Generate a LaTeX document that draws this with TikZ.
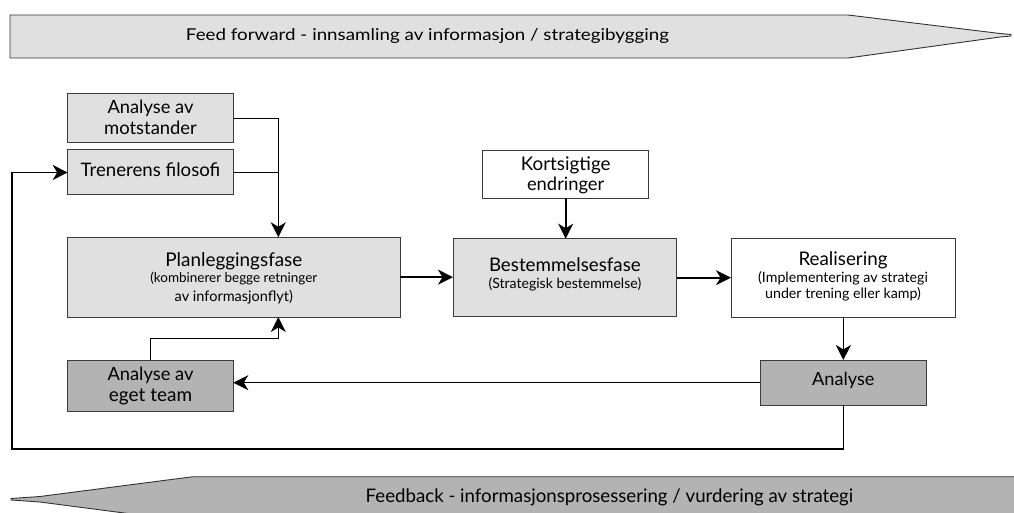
\documentclass[tikz,border=0pt]{standalone}
\usepackage{graphicx}
\usepackage{fontspec}
\setmainfont{Lato}
\newfontfamily\bandfont{Lato}[FakeStretch=1.15]
\usetikzlibrary{arrows.meta}
\definecolor{lightfill}{HTML}{E0E0E0}
\definecolor{darkfill}{HTML}{B3B3B3}
\definecolor{edge}{HTML}{3C3C3C}
% set a line of text to a given width
\newcommand\fit[2]{\resizebox{#1}{!}{#2}}
% invisible struts fixing the vertical extent of a text block
\newcommand\topstrut{\rule{0pt}{20pt}}
\newcommand\botstrut[1]{\rule[-#1pt]{0pt}{#1pt}}
\begin{document}
\begin{tikzpicture}[x=1pt,y=-1pt,
  box/.style={draw=edge, line width=1pt, rectangle, inner sep=0pt, outer sep=0pt,
    anchor=north west, align=center},
  light/.style={box, fill=lightfill},
  dark/.style={box, fill=darkfill},
  plain/.style={box, fill=white},
  band/.style={draw=black!80, line width=0.9pt},
  conn/.style={line width=1.6pt, -{Stealth[length=15pt,width=15pt,inset=4.5pt]}},
  link/.style={line width=1.6pt}]
\useasboundingbox (0,0) rectangle (1014,513);

% forward band
\filldraw[band, fill=lightfill] (10,15) -- (848,15) -- (1000,33.5) -- (1011,34.5) -- (1011,36)
  -- (1000,37) -- (848,58) -- (10,58) -- cycle;
\node[anchor=base, inner sep=0pt] (ff) at (427.5,40.7)
  {\fit{483pt}{\bandfont Feed forward - innsamling av informasjon / strategibygging}};

% feedback band
\filldraw[band, fill=darkfill] (1030,476.7) -- (193,476.7) -- (40,496.5) -- (11,498.5) -- (11,500)
  -- (40,502) -- (193,522) -- (1030,522) -- cycle;
\node[anchor=base, inner sep=0pt] (fb) at (609.5,502.3)
  {\fit{487.6pt}{Feedback - informasjonsprosessering / vurdering av strategi}};

% boxes
\node[light, minimum width=165.6pt, minimum height=45.3pt, font=\fontsize{16}{21}\selectfont]
  (mot) at (67.7,94)
  {\topstrut\fit{86pt}{Analyse av}\\ \fit{92.7pt}{motstander}\botstrut{7.8}};
\node[light, minimum width=165.6pt, minimum height=45pt, font=\fontsize{16}{21}\selectfont]
  (fil) at (67.7,150)
  {\topstrut\fit{139.7pt}{Trenerens filosofi}\botstrut{11.6}};
\node[light, minimum width=332.3pt, minimum height=79.7pt, font=\fontsize{16}{18.7}\selectfont]
  (plan) at (67.7,237.3)
  {\topstrut\fit{137pt}{Planleggingsfase}\\[-2.4pt]
   \fit{167pt}{(kombinerer begge retninger}\\
   \fit{118.3pt}{av informasjonflyt)}\botstrut{6}};
\node[plain, minimum width=166pt, minimum height=45pt, font=\fontsize{16}{20}\selectfont]
  (kort) at (482.7,150.7)
  {\topstrut\fit{89.7pt}{Kortsigtige}\\ \fit{77.3pt}{endringer}\botstrut{7.8}};
\node[light, minimum width=223.7pt, minimum height=78pt, font=\fontsize{16}{16.6}\selectfont]
  (best) at (453,238.7)
  {\topstrut\fit{151.7pt}{Bestemmelsesfase}\\
   \fit{152.7pt}{(Strategisk bestemmelse)}\botstrut{15.4}};
\node[plain, minimum width=224pt, minimum height=78.3pt, font=\fontsize{16}{16}\selectfont]
  (real) at (731,238.7)
  {\topstrut\fit{89pt}{Realisering}\\[1.3pt]
   \fit{169.7pt}{(Implementering av strategi}\\
   \fit{155.7pt}{under trening eller kamp)}\botstrut{12.4}};
\node[dark, minimum width=166.7pt, minimum height=45.3pt, font=\fontsize{16}{21}\selectfont]
  (ana) at (760,360)
  {\topstrut\fit{62.3pt}{Analyse}\botstrut{13.4}};
\node[dark, minimum width=165.6pt, minimum height=45.4pt, font=\fontsize{16}{21}\selectfont]
  (eget) at (67.7,360.3)
  {\topstrut\fit{86pt}{Analyse av}\\ \fit{83.3pt}{eget team}\botstrut{10.4}};

% connectors
\coordinate (j) at (278.3,117);
\coordinate (loop) at (11.7,449);
\draw[conn] (mot.east) -| (plan.north -| j);
\draw[link] (fil.east) -- (fil.east -| j);
\draw[conn] (plan.east) -- (plan.east -| best.west);
\draw[conn] (kort.south) -- (kort.south |- best.north);
\draw[conn] (best.east) -- (best.east -| real.west);
\draw[conn] (ana.north |- real.south) -- (ana.north);
\draw[conn] (ana.west) -- (ana.west -| eget.east);
\draw[conn] (eget.north) -- ++(0,-22) -| (plan.south -| j);
\draw[conn] (ana.south) |- (loop) |- (fil.west);
\end{tikzpicture}
\end{document}
